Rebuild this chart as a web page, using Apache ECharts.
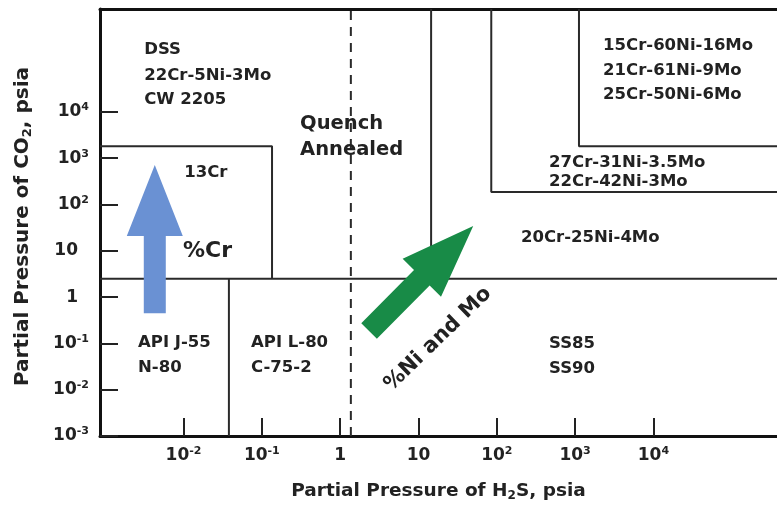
<!DOCTYPE html>
<html>
<head>
<meta charset="utf-8">
<script src="https://cdn.jsdelivr.net/npm/echarts@6/dist/echarts.min.js"></script>
<style>
  html, body { margin: 0; padding: 0; background: #fff; }
  #chart { width: 777px; height: 514px; }
</style>
</head>
<body>
<div id="chart"></div>
<script>
// Axis extents, psia
const X_MIN = 0.000859, X_MAX = 378000;
const Y_MIN = 0.001, Y_MAX = 1.667e6;

// Tick positions, psia
const xTickValues = [0.01, 0.1, 1, 10, 100, 1000, 10000];
const yTickValues = [0.001, 0.01, 0.1, 1, 10, 100, 1000, 10000];

// Material selection boundaries as [H2S, CO2] polylines, psia
const lowCO2Limit = [[X_MIN, 2.5], [X_MAX, 2.5]];
const cr13Region = [[X_MIN, 1800], [0.135, 1800], [0.135, 2.5]];
const apiL80Limit = [[0.038, Y_MIN], [0.038, 2.5]];
const quenchLimit = [[1.37, Y_MIN], [1.37, Y_MAX]];
const cr20Limit = [[14.5, Y_MAX], [14.5, 2.5]];
const cr27Region = [[85, Y_MAX], [85, 186], [X_MAX, 186]];
const cr15Region = [[1120, Y_MAX], [1120, 1800], [X_MAX, 1800]];

// Trend arrows: [H2S tail, CO2 tail, H2S tip, CO2 tip]
const crArrow = [0.0043, 0.45, 0.0043, 713];
const niMoArrow = [2.34, 0.185, 50, 34.4];

// Region labels: [text, H2S, CO2] (left edge, vertical middle)
const materialLabels = [
  ['DSS', 0.00315, 2.23e5],
  ['22Cr-5Ni-3Mo', 0.00315, 5.96e4],
  ['CW 2205', 0.00315, 1.81e4],
  ['13Cr', 0.0102, 479],
  ['15Cr-60Ni-16Mo', 2275, 2.65e5],
  ['21Cr-61Ni-9Mo', 2275, 7.64e4],
  ['25Cr-50Ni-6Mo', 2275, 2.32e4],
  ['27Cr-31Ni-3.5Mo', 465, 787],
  ['22Cr-42Ni-3Mo', 465, 306],
  ['20Cr-25Ni-4Mo', 204, 18.9],
  ['API J-55', 0.00263, 0.102],
  ['N-80', 0.00263, 0.0294],
  ['API L-80', 0.0728, 0.102],
  ['C-75-2', 0.0728, 0.0294],
  ['SS85', 465, 0.097],
  ['SS90', 465, 0.028]
];
const treatmentLabels = [
  ['Quench', 0.308, 5480],
  ['Annealed', 0.308, 1500]
];
// [text, H2S, CO2, angle in degrees]
const trendLabels = [
  ['%Cr', 0.00986, 9.9, 0],
  ['%Ni and Mo', 17.8, 0.124, 44]
];

const FONT = 'DejaVu Sans';
const INK = '#222';
const LINE = '#2a2a2a';

const supStyle = { fontFamily: FONT, fontWeight: 'bold', fontSize: 11, color: INK, verticalAlign: 'top', lineHeight: 12 };
const subStyle = { fontFamily: FONT, fontWeight: 'bold', fontSize: 12, color: INK, verticalAlign: 'bottom', lineHeight: 12 };

function powerLabel(v, padPlain) {
  const e = Math.round(Math.log10(v));
  if (e === 0) return padPlain ? '1{sp| }' : '1';
  if (e === 1) return padPlain ? '10{sp| }' : '10';
  return '10{sup|' + e + '}';
}

function boundarySeries(points, dashed) {
  return {
    type: 'line',
    data: points,
    showSymbol: false,
    symbol: 'none',
    silent: true,
    z: 2,
    lineStyle: { color: LINE, width: 2, type: dashed ? [9, 7] : 'solid' }
  };
}

function arrowSeries(arrow, color, shaftW, headW, headL) {
  return {
    type: 'custom',
    coordinateSystem: 'cartesian2d',
    data: [arrow],
    encode: { x: [0, 2], y: [1, 3] },
    clip: false,
    silent: true,
    z: 4,
    renderItem: function (params, api) {
      const t = api.coord([api.value(0), api.value(1)]);
      const h = api.coord([api.value(2), api.value(3)]);
      const dx = h[0] - t[0], dy = h[1] - t[1];
      const len = Math.sqrt(dx * dx + dy * dy);
      const ux = dx / len, uy = dy / len;
      const nx = -uy, ny = ux;
      const b = [h[0] - ux * headL, h[1] - uy * headL];
      const p = (base, w) => [base[0] + nx * w, base[1] + ny * w];
      return {
        type: 'polygon',
        shape: {
          points: [
            p(t, shaftW / 2), p(b, shaftW / 2), p(b, headW / 2), h,
            p(b, -headW / 2), p(b, -shaftW / 2), p(t, -shaftW / 2)
          ]
        },
        style: { fill: color }
      };
    }
  };
}

function textSeries(labels, fontSize, centered) {
  return {
    type: 'custom',
    coordinateSystem: 'cartesian2d',
    data: labels.map(l => [l[1], l[2]]),
    clip: false,
    silent: true,
    z: 6,
    renderItem: function (params, api) {
      const item = labels[params.dataIndex];
      const pt = api.coord([api.value(0), api.value(1)]);
      const angle = item[3] || 0;
      return {
        type: 'text',
        x: pt[0],
        y: pt[1],
        rotation: angle * Math.PI / 180,
        style: {
          text: item[0],
          fontFamily: FONT,
          fontWeight: 'bold',
          fontSize: fontSize,
          fill: INK,
          align: centered ? 'center' : 'left',
          verticalAlign: 'middle'
        }
      };
    }
  };
}

const chart = echarts.init(document.getElementById('chart'), null, { renderer: 'canvas' });

chart.setOption({
  animation: false,
  backgroundColor: '#fff',
  grid: { left: 100, right: 0, top: 9, bottom: 78, containLabel: false },
  xAxis: [{
    type: 'log',
    logBase: 10,
    min: X_MIN,
    max: X_MAX,
    position: 'bottom',
    axisLine: { show: true, onZero: false, lineStyle: { color: '#111', width: 3 } },
    axisTick: { show: true, inside: true, length: 18, customValues: xTickValues, lineStyle: { color: INK, width: 2 } },
    axisLabel: {
      customValues: xTickValues,
      margin: 10,
      fontFamily: FONT, fontWeight: 'bold', fontSize: 17, color: INK, lineHeight: 20,
      formatter: v => powerLabel(v, false),
      rich: { sup: supStyle }
    },
    splitLine: { show: false },
    minorTick: { show: false },
    name: 'Partial Pressure of H{sub|2}S, psia',
    nameLocation: 'middle',
    nameGap: 44,
    nameTextStyle: {
      fontFamily: FONT, fontWeight: 'bold', fontSize: 18.5, color: INK, lineHeight: 22,
      rich: { sub: subStyle }
    }
  }, {
    type: 'log',
    logBase: 10,
    min: X_MIN,
    max: X_MAX,
    position: 'top',
    axisLine: { show: true, onZero: false, lineStyle: { color: '#111', width: 3 } },
    axisTick: { show: false },
    axisLabel: { show: false },
    splitLine: { show: false }
  }],
  yAxis: {
    type: 'log',
    logBase: 10,
    min: Y_MIN,
    max: Y_MAX,
    axisLine: { show: true, onZero: false, lineStyle: { color: '#111', width: 3 } },
    axisTick: { show: true, inside: true, length: 18, customValues: yTickValues, lineStyle: { color: INK, width: 2 } },
    axisLabel: {
      customValues: yTickValues,
      margin: 11,
      fontFamily: FONT, fontWeight: 'bold', fontSize: 17, color: INK, lineHeight: 20,
      formatter: v => powerLabel(v, true),
      rich: { sup: supStyle, sp: { width: 11, fontSize: 11 } }
    },
    splitLine: { show: false },
    minorTick: { show: false },
    name: 'Partial Pressure of CO{sub|2}, psia',
    nameLocation: 'middle',
    nameGap: 66,
    nameTextStyle: {
      fontFamily: FONT, fontWeight: 'bold', fontSize: 20, color: INK, lineHeight: 23,
      padding: [0, 8, 0, 0],
      rich: { sub: Object.assign({}, subStyle, { fontSize: 13 }) }
    }
  },
  series: [
    boundarySeries(lowCO2Limit),
    boundarySeries(cr13Region),
    boundarySeries(apiL80Limit),
    boundarySeries(quenchLimit, true),
    boundarySeries(cr20Limit),
    boundarySeries(cr27Region),
    boundarySeries(cr15Region),
    arrowSeries(crArrow, '#6a91d3', 22, 56, 71),
    arrowSeries(niMoArrow, '#188b47', 22, 54, 73),
    textSeries(materialLabels, 16.5, false),
    textSeries(treatmentLabels, 19.5, false),
    textSeries(trendLabels.slice(0, 1), 22, false),
    textSeries(trendLabels.slice(1), 21, true)
  ]
});
</script>
</body>
</html>
